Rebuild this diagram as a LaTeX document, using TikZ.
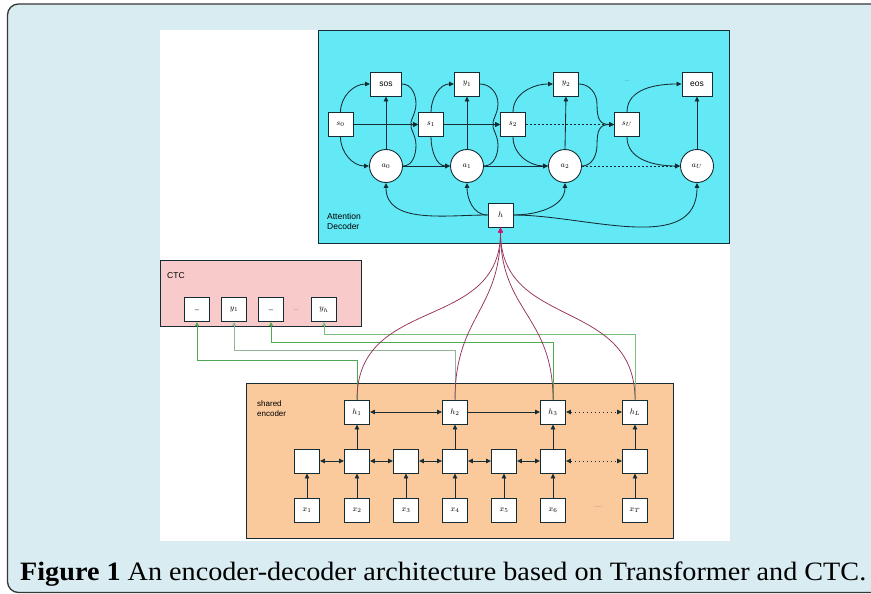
\documentclass[tikz,border=0pt]{standalone}
\usepackage{graphicx}
\usepackage{fontspec}
\setmainfont{Liberation Serif}
\setsansfont{Liberation Sans}
\usetikzlibrary{arrows.meta}

\definecolor{panelblue}{RGB}{216,236,241}
\definecolor{framegray}{RGB}{55,55,55}
\definecolor{decoderfill}{RGB}{98,233,245}
\definecolor{ctcfill}{RGB}{248,202,202}
\definecolor{encoderfill}{RGB}{250,201,156}
\definecolor{ink}{RGB}{22,44,52}
\definecolor{plum}{RGB}{150,50,92}
\definecolor{plumtip}{RGB}{205,20,110}
\definecolor{leaf}{RGB}{80,168,80}

\begin{document}
\begin{tikzpicture}[x=1pt,y=-1pt,
  tip/.tip={Triangle[length=5pt,width=4.5pt]},
  cell/.style={draw=ink, fill=white, line width=0.9pt, minimum width=25pt,
    minimum height=24pt, inner sep=0pt, font=\fontsize{8.5}{9}\selectfont},
  wide/.style={cell, minimum width=31pt},
  ctx/.style={cell, circle, minimum size=33pt},
  link/.style={draw=ink, line width=0.85pt, -tip},
  twoway/.style={draw=ink, line width=0.85pt, tip-tip},
  dots/.style={dash pattern=on 1.6pt off 2.4pt},
  feed/.style={draw=plum, line width=0.75pt, -{Triangle[length=5pt,width=4.5pt,color=plumtip]}},
  ctcwire/.style={draw=leaf, line width=0.8pt, -{Triangle[length=4pt,width=4pt]}},
  tag/.style={font=\sffamily\fontsize{8.5}{10.5}\selectfont, align=left, anchor=north west, inner sep=0pt}
]
\useasboundingbox (0,0) rectangle (871,594);
\clip (0,0) rectangle (871,594);
\fill[white] (0,0) rectangle (871,594);

% outer caption panel and the figure area
\draw[framegray, line width=1.3pt, fill=panelblue, rounded corners=11pt] (7.5,4) rectangle (900,592.5);
\fill[white] (160,30) rectangle (730,541);

% ---------- attention decoder ----------
\draw[ink, line width=0.9pt, fill=decoderfill] (318,30) rectangle (729,243);
\node[tag] (declabel) at (327,213) {Attention\\Decoder};

\node[cell] (s0) at (340.5,124.5) {$s_0$};
\node[cell] (s1) at (431,124.5) {$s_1$};
\node[cell] (s2) at (513,124.5) {$s_2$};
\node[cell] (sU) at (627,124.5) {$s_U$};
\node[wide] (sos) at (386,84) {\textsf{sos}};
\node[cell] (y1) at (467,84) {$y_1$};
\node[cell] (y2) at (566,84) {$y_2$};
\node[wide, minimum width=30pt] (eos) at (697,84) {\textsf{eos}};
\node[ctx] (a0) at (386,166) {$a_0$};
\node[ctx] (a1) at (467,166) {$a_1$};
\node[ctx] (a2) at (565,166) {$a_2$};
\node[ctx] (aU) at (697,166) {$a_U$};
\node[cell] (h) at (500.5,215) {$h$};
\node[font=\fontsize{5}{5}\selectfont, text=ink!70] (ydots) at (627,81) {....};

% state chain
\draw[link] (s0.east) -- (s1.west);
\draw[link] (s1.east) -- (s2.west);
\draw[link, dots] (s2.east) -- (sU.west);
% context chain
\draw[link] (a0.east) -- (a1.west);
\draw[link] (a1.east) -- (a2.west);
\draw[link, dots] (a2.east) -- (aU.west);
% outputs
\draw[link] (a0.north) -- (sos.south);
\draw[link] (a1.north) -- (y1.south);
\draw[link] (a2.north) -- (y2.south);
\draw[link] (aU.north) -- (eos.south);
% state to output and context
\foreach \s/\o/\c in {s0/sos/a0, s1/y1/a1, s2/y2/a2, sU/eos/aU}{
  \draw[link] (\s.north) to[out=90,in=180] (\o.west);
  \draw[link] (\s.south) to[out=-90,in=180] (\c.west);
}
% previous output and context into the next state
\foreach \o/\c/\s/\v in {sos/a0/s1/416, y1/a1/s2/498, y2/a2/sU/597}{
  \draw[link] (\o.east) to[out=0,in=90] (\v,104) to[out=-90,in=180,looseness=1.4] (\s.west);
  \draw[link] (\c.east) to[out=0,in=-90] (\v,145) to[out=90,in=180,looseness=1.4] (\s.west);
}
% encoder summary into each context
\draw[link] (h.west) to[out=180,in=-90] (a0.south);
\draw[link] (h.west) to[out=180,in=-90] (a1.south);
\draw[link] (h.east) to[out=0,in=-90] (a2.south);
\draw[link] (h.east) to[out=0,in=-90] (aU.south);

% ---------- CTC ----------
\draw[ink, line width=0.9pt, fill=ctcfill] (160,260) rectangle (361,326);
\node[tag] (ctclabel) at (167,272) {CTC};
\node[cell, minimum width=24.5pt] (c1) at (197,309.7) {\_};
\node[cell, minimum width=24.5pt] (c2) at (234,309.7) {$y_1$};
\node[cell, minimum width=24.5pt] (c3) at (271,309.7) {\_};
\node[cell, minimum width=24.5pt] (c4) at (324,309.7) {$y_h$};
\node[font=\fontsize{6}{6}\selectfont, text=ink!70] (cdots) at (296,310) {...};

% ---------- shared encoder ----------
\draw[ink, line width=0.9pt, fill=encoderfill] (246,383) rectangle (673,538);
\node[tag, font=\sffamily\fontsize{8}{9.5}\selectfont] (enclabel) at (257,401) {shared\\encoder};

\foreach \i/\x/\lab in {1/307/x_1, 2/357/x_2, 3/406/x_3, 4/455/x_4, 5/504/x_5, 6/553/x_6, 7/635/x_T}{
  \node[cell] (m\i) at (\x,461) {};
  \node[cell] (x\i) at (\x,510) {$\lab$};
  \draw[link] (x\i.north) -- (m\i.south);
}
\node[font=\fontsize{5}{5}\selectfont, text=ink!70] (xdots) at (598,507) {......};
\node[cell] (h1) at (357,412) {$h_1$};
\node[cell] (h2) at (455,412) {$h_2$};
\node[cell] (h3) at (553,412) {$h_3$};
\node[cell] (hL) at (635,412) {$h_L$};

\foreach \a/\b in {1/2, 2/3, 3/4, 4/5, 5/6}{
  \draw[twoway] (m\a.east) -- (m\b.west);
}
\draw[twoway, dots] (m6.east) -- (m7.west);
\draw[link] (m2.north) -- (h1.south);
\draw[link] (m4.north) -- (h2.south);
\draw[link] (m6.north) -- (h3.south);
\draw[link] (m7.north) -- (hL.south);
\draw[twoway] (h1.east) -- (h2.west);
\draw[link] (h2.east) -- (h3.west);
\draw[twoway, dots] (h3.east) -- (hL.west);

% ---------- encoder states to CTC ----------
\draw[ctcwire] (h1.north) -- (h1.north |- 0,360) -| (c1.south);
\draw[ctcwire, draw=leaf!55!gray!70] (h2.north) -- (h2.north |- 0,350) -| (c2.south);
\draw[ctcwire] (h3.north) -- (h3.north |- 0,342) -| (c3.south);
\draw[ctcwire, draw=leaf!75] (hL.north) -- (hL.north |- 0,334) -| (c4.south);

% ---------- encoder states to the decoder ----------
\foreach \e in {h1,h2,h3,hL}{
  \draw[feed] (\e.north) to[out=90,in=-90,looseness=1.2] (h.south);
}

% ---------- caption ----------
\node[anchor=base west, inner sep=0pt] (caption) at (20,580)
  {\resizebox{846pt}{\height}{\fontsize{26.5}{30}\selectfont\textbf{Figure 1} An encoder-decoder architecture based on Transformer and CTC.}};
\end{tikzpicture}
\end{document}
